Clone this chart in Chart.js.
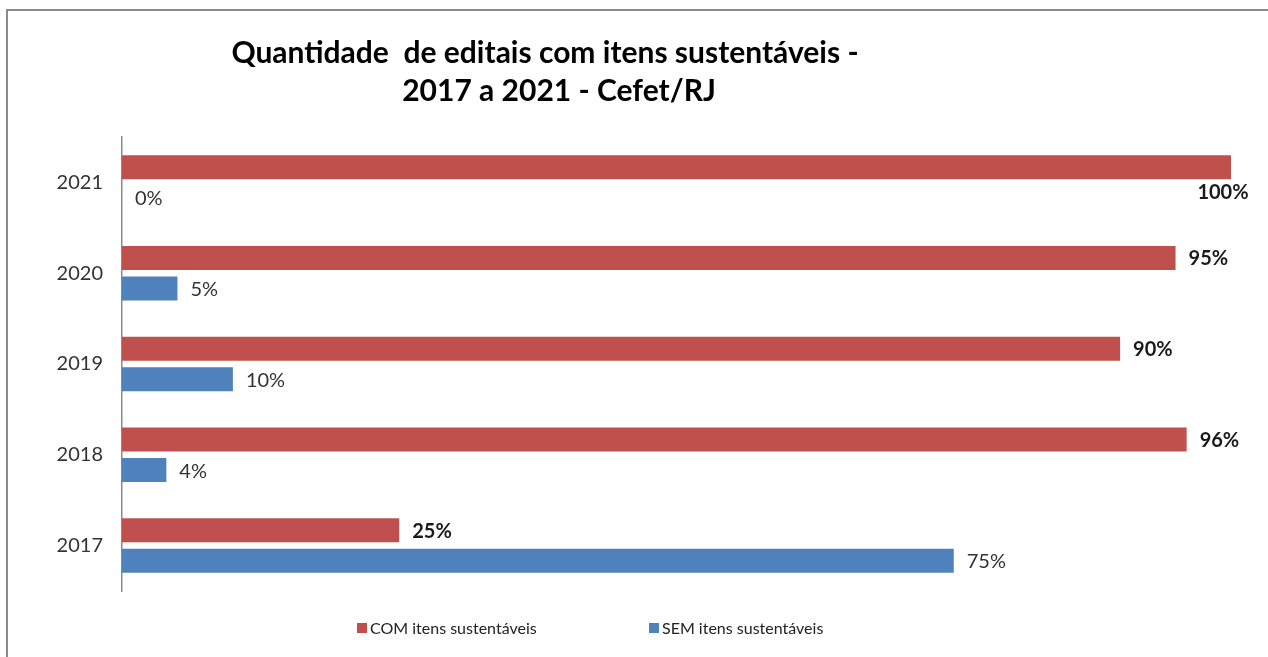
<!DOCTYPE html>
<html>
<head>
<meta charset="utf-8">
<script src="https://cdn.jsdelivr.net/npm/chart.js@4/dist/chart.umd.min.js"></script>
<style>
  html, body { margin: 0; padding: 0; background: #fff; }
  #wrap { width: 1268px; height: 657px; position: relative; }
</style>
</head>
<body>
<div id="wrap"><canvas id="chart"></canvas></div>
<script>
const years = ["2021", "2020", "2019", "2018", "2017"];
const comValues = [100, 95, 90, 96, 25];
const semValues = [0, 5, 10, 4, 75];
const titleLines = ["Quantidade  de editais com itens sustentáveis -", "2017 a 2021 - Cefet/RJ"];
const seriesNames = ["COM itens sustentáveis", "SEM itens sustentáveis"];

const RED = "#C0504D";
const BLUE = "#4F81BD";
const FONT = "Lato, 'Open Sans', sans-serif";

// title, legend, frame and value labels drawn by hand (Excel-like placement)
const extras = {
  id: "extras",
  afterDraw(chart) {
    const ctx = chart.ctx;
    ctx.save();

    // frame (only top/left visible in the crop)
    ctx.strokeStyle = "#8a8a8a";
    ctx.lineWidth = 2;
    ctx.beginPath();
    ctx.moveTo(7, chart.height);
    ctx.lineTo(7, 10);
    ctx.lineTo(chart.width, 10);
    ctx.stroke();

    // title
    ctx.fillStyle = "#000";
    ctx.font = "bold 30px " + FONT;
    ctx.textAlign = "center";
    ctx.textBaseline = "middle";
    ctx.fillText(titleLines[0], 545, 53);
    ctx.fillText(titleLines[1], 559, 91);

    // value labels
    chart.data.datasets.forEach((ds, di) => {
      const meta = chart.getDatasetMeta(di);
      ctx.font = (di === 0 ? "bold " : "") + "20px " + FONT;
      ctx.fillStyle = di === 0 ? "#1a1a1a" : "#333";
      meta.data.forEach((el, i) => {
        const txt = ds.data[i] + "%";
        const w = ctx.measureText(txt).width;
        if (el.x + 12 + w > chart.width) {
          ctx.textAlign = "center";
          ctx.fillText(txt, el.x - 8, el.y + 25);
        } else {
          ctx.textAlign = "left";
          ctx.fillText(txt, el.x + 13, el.y + 1);
        }
      });
    });

    // legend
    ctx.font = "16px " + FONT;
    ctx.textAlign = "left";
    const legendX = [357, 649];
    chart.data.datasets.forEach((ds, di) => {
      ctx.fillStyle = ds.backgroundColor;
      ctx.fillRect(legendX[di], 623, 10, 10);
      ctx.fillStyle = "#222";
      ctx.fillText(ds.label, legendX[di] + 13, 629);
    });

    ctx.restore();
  }
};

new Chart(document.getElementById("chart"), {
  type: "bar",
  data: {
    labels: years,
    datasets: [
      { label: seriesNames[0], data: comValues, backgroundColor: RED },
      { label: seriesNames[1], data: semValues, backgroundColor: BLUE }
    ]
  },
  options: {
    indexAxis: "y",
    responsive: true,
    maintainAspectRatio: false,
    animation: false,
    categoryPercentage: 0.672,
    barPercentage: 0.787,
    layout: { padding: { top: 137, bottom: 66, left: 0, right: 37 } },
    plugins: {
      legend: { display: false },
      title: { display: false },
      tooltip: { enabled: false }
    },
    scales: {
      x: { display: false, min: 0, max: 100 },
      y: {
        afterFit: (s) => { s.width = 122; },
        grid: { display: false, drawTicks: false },
        border: { display: true, color: "#8a8a8a", width: 1.5 },
        ticks: { color: "#333", padding: 19, font: { family: FONT, size: 20 } }
      }
    }
  },
  plugins: [extras]
});
</script>
</body>
</html>
